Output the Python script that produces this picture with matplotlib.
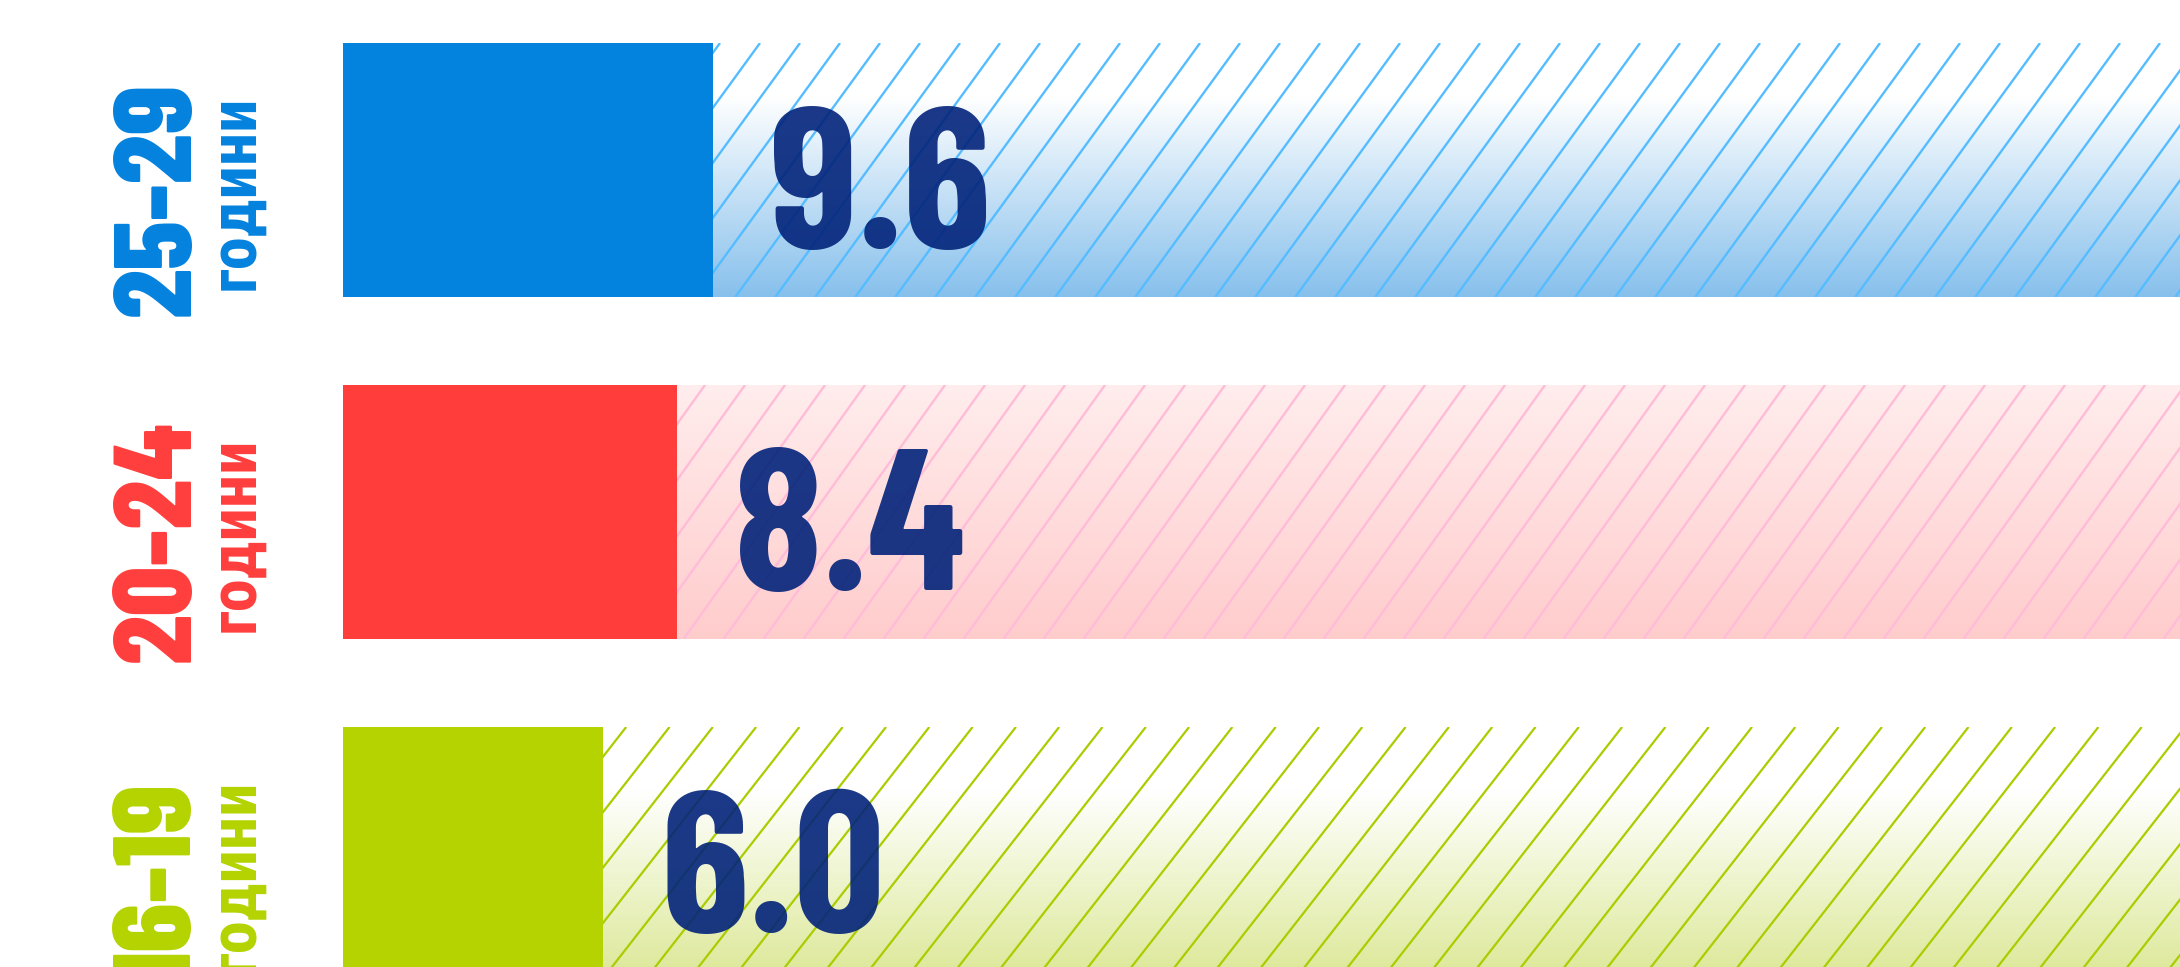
import numpy as np
import matplotlib
matplotlib.use("Agg")
import matplotlib.pyplot as plt
from matplotlib import font_manager as fm
from matplotlib.collections import LineCollection
from matplotlib.colors import to_rgb

# ---------------- data ----------------
groups = ["25-29", "20-24", "16-19"]
unit_word = "години"
values = [9.6, 8.4, 6.0]
value_labels = ["9.6", "8.4", "6.0"]

# ---------------- style ----------------
bar_colors = ["#0382de", "#ff3e3c", "#b4d300"]
grad_top = ["#ffffff", "#ffeded", "#ffffff"]
grad_bot = ["#87c0ec", "#ffcccc", "#dce896"]
grad_start = [0.21, 0.0, 0.25]
hatch_styles = [  # color, spacing px, slope dy/dx, phase px, lw
    ("#55bdff", 40.0, 1.375, 0.0, 1.7),
    ("#ffbcd9", 40.0, 1.40, 25.0, 1.7),
    ("#a9cd00", 43.3, 1.28, 20.0, 1.6),
]
value_color = "#02237a"


def wt(f):
    w = f.weight
    if isinstance(w, str):
        w = fm.weight_dict.get(w, 400)
    return int(w)


def find_font(families, weight):
    entries = fm.fontManager.ttflist
    for fam in families:
        cands = [f for f in entries if f.name == fam and f.style == "normal"]
        if cands:
            cands.sort(key=lambda f: abs(wt(f) - weight))
            return cands[0].fname
    return None


num_font = find_font(["Barlow Condensed", "Roboto Condensed"], 700)
lab_font = find_font(["Barlow Condensed", "Roboto Condensed"], 800)
cyr_font = find_font(["Roboto Condensed", "PT Sans Narrow", "DejaVu Sans"], 700)


def fprop(path, size):
    if path:
        return fm.FontProperties(fname=path, size=size)
    return fm.FontProperties(family="DejaVu Sans", weight="bold", size=size)


# ---------------- layout ----------------
W, H, DPI = 2180, 967, 100
fig = plt.figure(figsize=(W / DPI, H / DPI), dpi=DPI)
ax = fig.add_axes([0, 0, 1, 1])
ax.axis("off")

BASE = -2.5
PX_PER_UNIT = 30.6
X_LEFT_PX = 343
ROW_PX = 342
CENTER0_PX = 170
BAR_PX = 254

xmin = BASE - X_LEFT_PX / PX_PER_UNIT
xmax = xmin + W / PX_PER_UNIT
ytop_lim = -CENTER0_PX / ROW_PX
ybot_lim = (H - CENTER0_PX) / ROW_PX
BAR_H = BAR_PX / ROW_PX
TRACK_END = xmax + 5

ypos = np.arange(len(groups))

# tracks (invisible, used as clip shapes)
tracks = ax.barh(ypos, TRACK_END - BASE, left=BASE, height=BAR_H,
                 color="none", linewidth=0, zorder=1)

for i, yc in enumerate(ypos):
    # gradient fill
    t = np.linspace(0, 1, 512)
    f = np.clip((t - grad_start[i]) / (1 - grad_start[i]), 0, 1)
    c0 = np.array(to_rgb(grad_top[i]))
    c1 = np.array(to_rgb(grad_bot[i]))
    arr = (c0[None, :] * (1 - f[:, None]) + c1[None, :] * f[:, None])[:, None, :]
    im = ax.imshow(arr, extent=(BASE, TRACK_END, yc + BAR_H / 2, yc - BAR_H / 2),
                   origin="upper", aspect="auto", interpolation="bilinear", zorder=1)
    im.set_clip_path(tracks[i])

    # diagonal hatching
    col, sp, slope, phase, lw = hatch_styles[i]
    ytop_px = CENTER0_PX + i * ROW_PX - BAR_PX / 2
    ybot_px = ytop_px + BAR_PX
    dx = BAR_PX / slope
    k0 = int(np.floor((X_LEFT_PX - phase) / sp)) - 1
    k1 = int(np.ceil((W + dx - phase) / sp)) + 1
    segs = []
    for k in range(k0, k1 + 1):
        xt = phase + k * sp
        segs.append([(xt / W, 1 - ytop_px / H), ((xt - dx) / W, 1 - ybot_px / H)])
    lc = LineCollection(segs, colors=col, linewidths=lw, transform=ax.transAxes,
                        zorder=2, capstyle="butt")
    ax.add_collection(lc, autolim=False)
    lc.set_clip_path(tracks[i])

# solid bars
ax.barh(ypos, np.array(values) - BASE, left=BASE, height=BAR_H,
        color=bar_colors, linewidth=0, zorder=3)

# value labels
GAP_UNITS = 57 / PX_PER_UNIT
BASELINE_OFF = 78 / ROW_PX
for i, (v, lab) in enumerate(zip(values, value_labels)):
    ax.text(v + GAP_UNITS, ypos[i] + BASELINE_OFF, lab, fontproperties=fprop(num_font, 145),
            color=value_color, alpha=0.9, ha="left", va="baseline", zorder=5)


def px_to_x(p):
    return xmin + p / PX_PER_UNIT


# group labels (rotated)
for i, g in enumerate(groups):
    ax.text(px_to_x(190), ypos[i] + 29 / ROW_PX, g, fontproperties=fprop(lab_font, 79),
            color=bar_colors[i], rotation=90, rotation_mode="anchor",
            ha="center", va="baseline", zorder=5)
    ax.text(px_to_x(253), ypos[i] + 22 / ROW_PX, unit_word, fontproperties=fprop(cyr_font, 48),
            color=bar_colors[i], rotation=90, rotation_mode="anchor",
            ha="center", va="baseline", zorder=5)

ax.set_xlim(xmin, xmax)
ax.set_ylim(ybot_lim, ytop_lim)

fig.savefig("out.png", dpi=DPI, facecolor="white")
